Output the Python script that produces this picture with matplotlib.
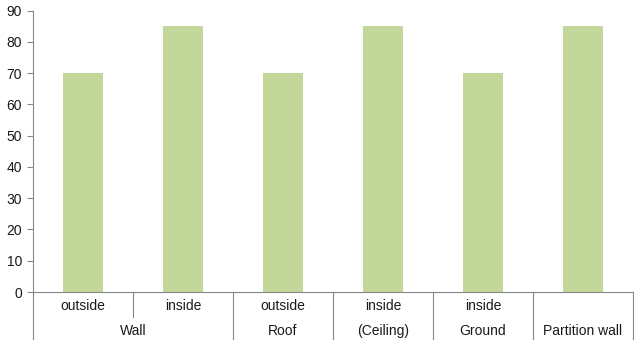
import matplotlib
matplotlib.use("Agg")
import matplotlib.pyplot as plt
import matplotlib.transforms as mtransforms

plt.rcParams["font.family"] = ["Liberation Sans", "DejaVu Sans"]

# data
positions = ["outside", "inside", "outside", "inside", "inside", ""]
groups = ["Wall", "Roof", "(Ceiling)", "Ground", "Partition wall"]
group_spans = [(0, 2), (2, 3), (3, 4), (4, 5), (5, 6)]
values = [70, 85, 70, 85, 70, 85]
yticks = [0, 10, 20, 30, 40, 50, 60, 70, 80, 90]

BAR_COLOR = "#C4D79B"
AXIS_COLOR = "#868686"
TEXT_COLOR = "#1a1a1a"

W, H = 634, 340
fig = plt.figure(figsize=(W / 100, H / 100), dpi=100)
ax_left, ax_right, ax_top, ax_bottom = 33, 633, 10.5, 292
ax = fig.add_axes([ax_left / W, 1 - ax_bottom / H,
                   (ax_right - ax_left) / W, (ax_bottom - ax_top) / H])

x = range(len(values))
ax.bar(x, values, width=0.4, color=BAR_COLOR, edgecolor="none")

ax.set_xlim(-0.5, len(values) - 0.5)
ax.set_ylim(0, 90)
ax.set_yticks(yticks)
ax.tick_params(axis="y", direction="out", length=4, width=0.8, color=AXIS_COLOR,
               labelsize=10, labelcolor=TEXT_COLOR, pad=4)
ax.set_xticks([])

for side in ("top", "right"):
    ax.spines[side].set_visible(False)
for side in ("left", "bottom"):
    ax.spines[side].set_color(AXIS_COLOR)
    ax.spines[side].set_linewidth(0.8)

# multi-level category axis, y in pixels below the axis
ax_h = ax_bottom - ax_top
def frac(px_below):
    return -px_below / ax_h

trans = mtransforms.blended_transform_factory(ax.transData, ax.transAxes)

for i, lab in enumerate(positions):
    ax.text(i, frac(14), lab, transform=trans, ha="center", va="center",
            fontsize=10, color=TEXT_COLOR)

for lab, (a, b) in zip(groups, group_spans):
    ax.text((a + b - 1) / 2, frac(39), lab, transform=trans, ha="center",
            va="center", fontsize=10, color=TEXT_COLOR)

# separators
group_edges = sorted(set([s for s, _ in group_spans] + [e for _, e in group_spans]))
for edge in group_edges:
    ax.plot([edge - 0.5, edge - 0.5], [0, frac(48)], transform=trans,
            color=AXIS_COLOR, lw=0.8, clip_on=False)
for a, b in group_spans:
    for k in range(a + 1, b):
        ax.plot([k - 0.5, k - 0.5], [0, frac(25)], transform=trans,
                color=AXIS_COLOR, lw=0.8, clip_on=False)

fig.savefig("out.png", dpi=100, facecolor="white")
